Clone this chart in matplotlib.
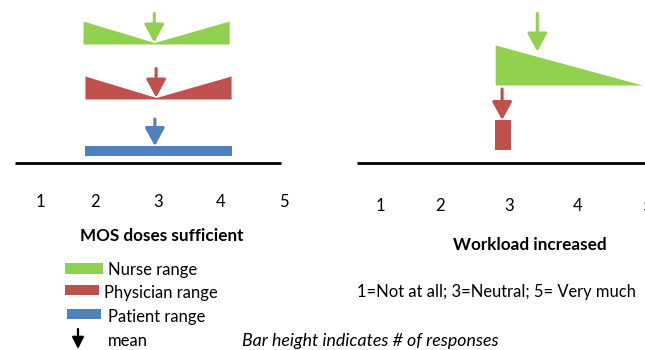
import numpy as np
import matplotlib
matplotlib.use("Agg")
import matplotlib.pyplot as plt
from matplotlib.patches import Rectangle

plt.rcParams['font.family'] = ['Lato', 'DejaVu Sans']

# ---- data ----
tick_labels = ['1', '2', '3', '4', '5']
left_tick_pos = [1.13, 2, 3, 4, 5]
right_tick_pos = [1.14, 2, 3, 4, 5]

# MOS doses sufficient: range ends / mean, heights = # responses
mos_nurse_x = [1.81, 2.94, 4.13]
mos_nurse_h = [23, 1.5, 23]
mos_nurse_mean = 2.94
mos_phys_x = [1.84, 2.97, 4.16]
mos_phys_h = [23, 1.5, 23]
mos_phys_mean = 2.97
mos_pat_x = [1.84, 4.17]
mos_pat_h = [10, 10]
mos_pat_mean = 2.95

# Workload increased
wl_nurse_x = [2.80, 4.93]
wl_nurse_h = [40, 0]
wl_nurse_mean = 3.41
wl_phys_x = [2.80, 3.03]
wl_phys_h = [30, 30]
wl_phys_mean = 2.90

legend_labels = ['Nurse range', 'Physician range', 'Patient range', 'mean']
scale_note = '1=Not at all; 3=Neutral; 5= Very much'
height_note = 'Bar height indicates # of responses'

green = '#92D050'
red = '#C0504D'
blue = '#4F81BD'

W, H = 645, 350
fig = plt.figure(figsize=(6.45, 3.5), dpi=100)


def add_px_axes(x0, x1, y_top, y_bot):
    return fig.add_axes([x0 / W, 1 - y_bot / H, (x1 - x0) / W, (y_bot - y_top) / H])


def down_arrow(ax, x, tip, length, color):
    ax.annotate('', xy=(x, tip), xytext=(x, tip + length),
                arrowprops=dict(arrowstyle='-|>,head_length=0.55,head_width=0.3',
                                mutation_scale=20, lw=2.2, color=color,
                                shrinkA=0, shrinkB=0))


def wedge(ax, xs, hs, base, mean, color, arrow_len=29, gap=0):
    ax.fill_between(xs, base, base + np.array(hs), color=color, lw=0)
    tip = base + np.interp(mean, xs, hs) + gap
    down_arrow(ax, mean, tip, arrow_len, color)


def setup(ax, ticks, base_x, title, title_x, title_y, pad):
    ax.set_ylim(0, 163)
    for s in ax.spines.values():
        s.set_visible(False)
    ax.set_yticks([])
    ax.set_xticks(ticks, tick_labels)
    ax.tick_params(axis='x', length=0, pad=pad, labelsize=12)
    ax.hlines(0, base_x[0], base_x[1], color='black', lw=2, clip_on=False)
    ax.set_xlabel(title, fontsize=12.3, fontweight='bold')
    ax.xaxis.set_label_coords(title_x, title_y)


# left panel: 63 px per unit, 3 at x=158
axL = add_px_axes(0, 320, 0, 163)
axL.set_xlim(3 - 158 / 63, 3 + 162 / 63)
setup(axL, left_tick_pos, [0.73, 4.95], 'MOS doses sufficient', 0.506, -0.40, 22)
wedge(axL, mos_nurse_x, mos_nurse_h, 119, mos_nurse_mean, green)
wedge(axL, mos_phys_x, mos_phys_h, 64, mos_phys_mean, red)
wedge(axL, mos_pat_x, mos_pat_h, 7, mos_pat_mean, blue, arrow_len=27)

# right panel: 69 px per unit, 3 at x=509
axR = add_px_axes(340, 660, 0, 163)
axR.set_xlim(3 - 169 / 69, 3 + 151 / 69)
setup(axR, right_tick_pos, [0.80, 4.97], 'Workload increased', 0.594, -0.455, 25.5)
wedge(axR, wl_nurse_x, wl_nurse_h, 78, wl_nurse_mean, green, arrow_len=38, gap=5)
wedge(axR, wl_phys_x, wl_phys_h, 13, wl_phys_mean, red, arrow_len=31)

# legend / notes overlay
ov = fig.add_axes([0, 0, 1, 1])
ov.set_xlim(0, W)
ov.set_ylim(H, 0)
ov.axis('off')
for (x0, x1, y0, y1), c in zip([(65, 103, 263, 274), (65, 99, 285, 295), (67, 101, 309, 319)],
                               [green, red, blue]):
    ov.add_patch(Rectangle((x0, y0), x1 - x0, y1 - y0, color=c, lw=0))
for (x, y), lab in zip([(108, 270), (104, 293), (108, 317), (108, 341)], legend_labels):
    ov.text(x, y, lab, fontsize=12, va='center', ha='left')
ov.annotate('', xy=(78, 349), xytext=(78, 329),
            arrowprops=dict(arrowstyle='-|>,head_length=0.5,head_width=0.25',
                            mutation_scale=14, lw=1.6, color='black',
                            shrinkA=0, shrinkB=0))
ov.text(357, 292, scale_note, fontsize=11.9, va='center', ha='left')
ov.text(242, 341, height_note, fontsize=12.8, style='italic', va='center', ha='left')

fig.savefig('out.png', dpi=100)
